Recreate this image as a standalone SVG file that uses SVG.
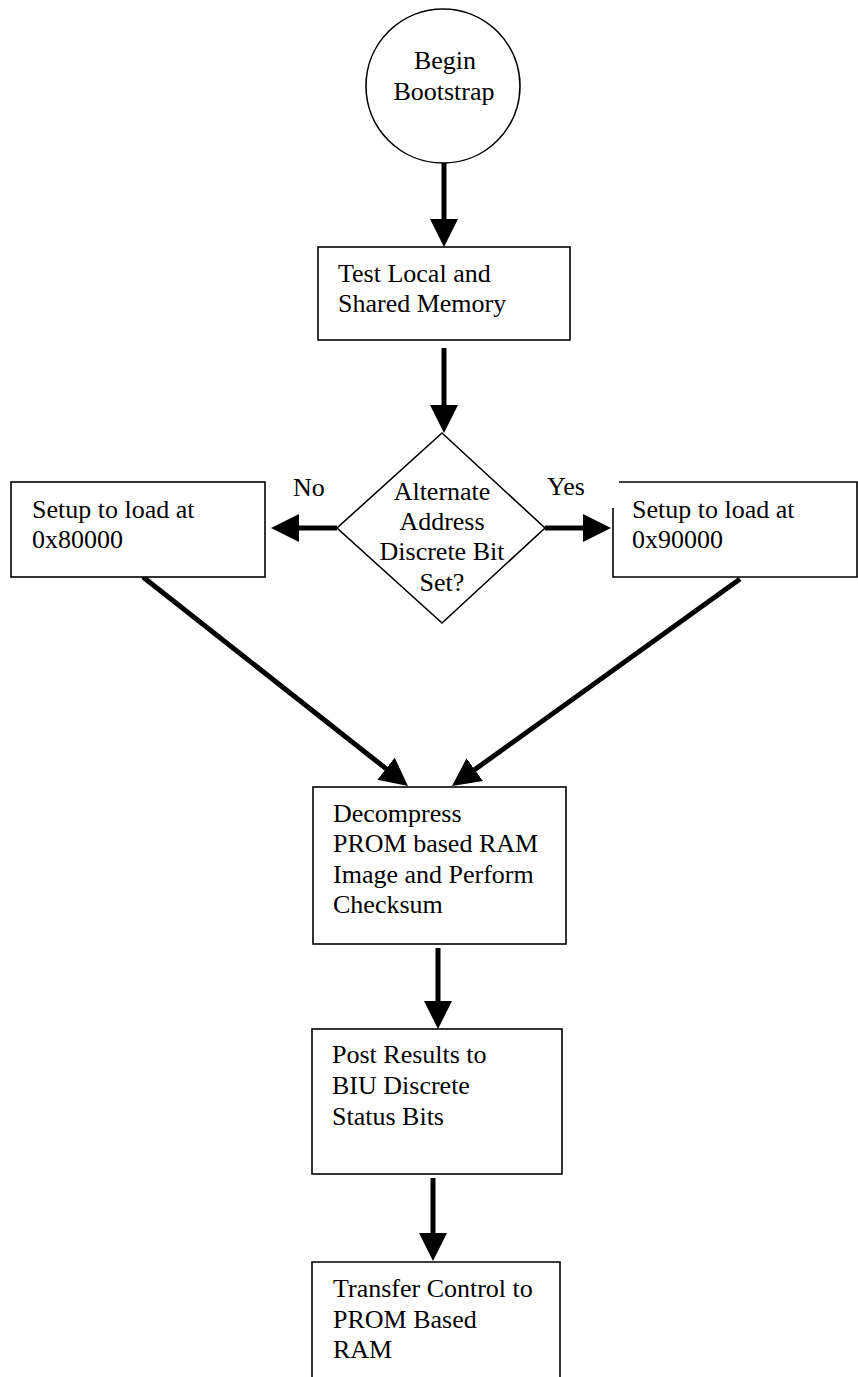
<svg xmlns="http://www.w3.org/2000/svg" width="858" height="1377" viewBox="0 0 858 1377">
  <style>
    .shape { fill: #ffffff; stroke: #000000; stroke-width: 1.6; }
    .edge { fill: none; stroke: #000000; stroke-width: 1.6; }
    .flow { fill: none; stroke: #000000; stroke-width: 5; marker-end: url(#head); }
    text { font-family: "Liberation Serif", "Times New Roman", serif; font-size: 26px; fill: #000000; }
    .mid { text-anchor: middle; }
  </style>
  <defs>
    <marker id="head" markerUnits="userSpaceOnUse" viewBox="0 0 28 28" refX="2" refY="14" markerWidth="28" markerHeight="28" orient="auto">
      <path d="M0,0 L28,14 L0,28 z" fill="#000000"/>
    </marker>
  </defs>
  <rect width="858" height="1377" fill="#ffffff"/>

  <g id="connectors">
    <line class="flow" x1="444" y1="163" x2="444" y2="221"/>
    <line class="flow" x1="444" y1="348" x2="444" y2="407"/>
    <line class="flow" x1="337" y1="528" x2="297" y2="528"/>
    <line class="flow" x1="545" y1="528" x2="585" y2="528"/>
    <line class="flow" x1="143" y1="577" x2="387.6" y2="769.9"/>
    <line class="flow" x1="740" y1="579" x2="473.1" y2="770.8"/>
    <line class="flow" x1="438" y1="948" x2="438" y2="1003"/>
    <line class="flow" x1="433" y1="1178" x2="433" y2="1235"/>
  </g>

  <g id="begin">
    <circle class="shape" cx="443" cy="86" r="77"/>
    <text class="mid" x="445" y="69">Begin</text>
    <text class="mid" x="444" y="100">Bootstrap</text>
  </g>

  <g id="test-memory">
    <rect class="shape" x="318" y="247" width="252" height="93"/>
    <text x="338" y="282">Test Local and</text>
    <text x="338" y="312">Shared Memory</text>
  </g>

  <g id="decision">
    <polygon class="shape" points="442,433 545,528 442,623 337,528"/>
    <text class="mid" x="442" y="500">Alternate</text>
    <text class="mid" x="442" y="530">Address</text>
    <text class="mid" x="442" y="560">Discrete Bit</text>
    <text class="mid" x="442" y="591">Set?</text>
  </g>

  <g id="label-no">
    <text x="293" y="496">No</text>
  </g>
  <g id="label-yes">
    <text x="547" y="495">Yes</text>
  </g>

  <g id="setup-80000">
    <rect class="shape" x="11" y="482" width="254" height="95"/>
    <text x="32" y="518">Setup to load at</text>
    <text x="32" y="548">0x80000</text>
  </g>

  <g id="setup-90000">
    <path class="edge" d="M619,482 H857 V577 H613 V508"/>
    <text x="632" y="518">Setup to load at</text>
    <text x="632" y="548">0x90000</text>
  </g>

  <g id="decompress">
    <rect class="shape" x="313" y="787" width="253" height="157"/>
    <text x="333" y="822">Decompress</text>
    <text x="333" y="852">PROM based RAM</text>
    <text x="333" y="883">Image and Perform</text>
    <text x="333" y="913">Checksum</text>
  </g>

  <g id="post-results">
    <rect class="shape" x="312" y="1029" width="250" height="145"/>
    <text x="332" y="1063">Post Results to</text>
    <text x="332" y="1094">BIU Discrete</text>
    <text x="332" y="1125">Status Bits</text>
  </g>

  <g id="transfer-control">
    <path class="edge" d="M312,1380 V1262 H560 V1380"/>
    <text x="333" y="1297">Transfer Control to</text>
    <text x="333" y="1328">PROM Based</text>
    <text x="333" y="1358">RAM</text>
  </g>
</svg>
